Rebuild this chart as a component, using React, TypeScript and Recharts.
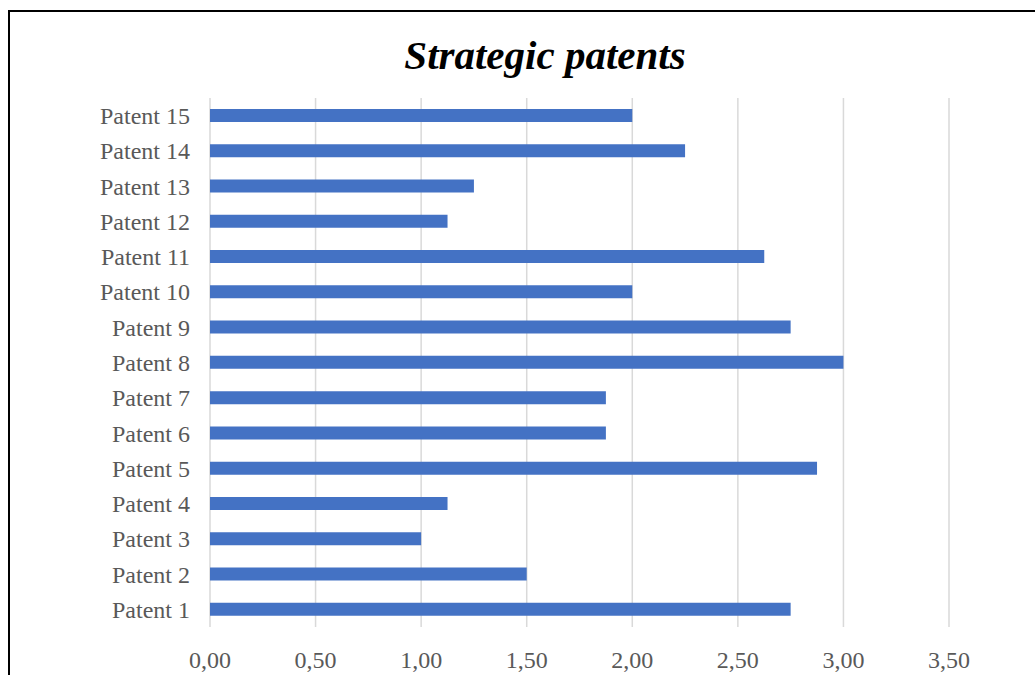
import React from 'react';
import { BarChart, Bar, XAxis, YAxis, CartesianGrid } from 'recharts';

const patents = [
  'Patent 1', 'Patent 2', 'Patent 3', 'Patent 4', 'Patent 5',
  'Patent 6', 'Patent 7', 'Patent 8', 'Patent 9', 'Patent 10',
  'Patent 11', 'Patent 12', 'Patent 13', 'Patent 14', 'Patent 15',
];
const scores = [2.75, 1.5, 1.0, 1.125, 2.875, 1.875, 1.875, 3.0, 2.75, 2.0, 2.625, 1.125, 1.25, 2.25, 2.0];
const xTicks = [0, 0.5, 1, 1.5, 2, 2.5, 3, 3.5];

const data = patents.map((name, i) => ({ name, score: scores[i] }));

const font = '"Liberation Serif", "Times New Roman", serif';
const grey = '#595959';

const App: React.FC = () => (
  <div
    style={{
      position: 'fixed',
      left: 8,
      top: 10,
      width: 1027,
      height: 665,
      borderTop: '2px solid #000',
      borderLeft: '2px solid #000',
      boxSizing: 'border-box',
      overflow: 'hidden',
      background: '#fff',
    }}
  >
    <div
      style={{
        position: 'absolute',
        left: 0,
        top: 23,
        width: 1070,
        textAlign: 'center',
        fontFamily: font,
        fontWeight: 'bold',
        fontStyle: 'italic',
        fontSize: 41,
        lineHeight: '41px',
        color: '#000',
      }}
    >
      Strategic patents
    </div>
    <div style={{ position: 'absolute', left: 0, top: 0 }}>
      <BarChart
        width={1000}
        height={665}
        data={data}
        layout="vertical"
        margin={{ top: 86, right: 61, bottom: 10, left: 0 }}
        barSize={13}
      >
        <CartesianGrid horizontal={false} stroke="#d9d9d9" strokeWidth={1.5} />
        <XAxis
          type="number"
          domain={[0, 3.5]}
          ticks={xTicks}
          height={40}
          axisLine={false}
          tickLine={false}
          tickMargin={18}
          tickFormatter={(v: number) => v.toFixed(2).replace('.', ',')}
          tick={{ fontFamily: font, fontSize: 24, fill: grey }}
        />
        <YAxis
          type="category"
          dataKey="name"
          reversed
          width={200}
          axisLine={false}
          tickLine={false}
          tickMargin={14}
          interval={0}
          tick={{ fontFamily: font, fontSize: 24, fill: grey }}
        />
        <Bar dataKey="score" fill="#4472C4" isAnimationActive={false} />
      </BarChart>
    </div>
  </div>
);

export default App;
